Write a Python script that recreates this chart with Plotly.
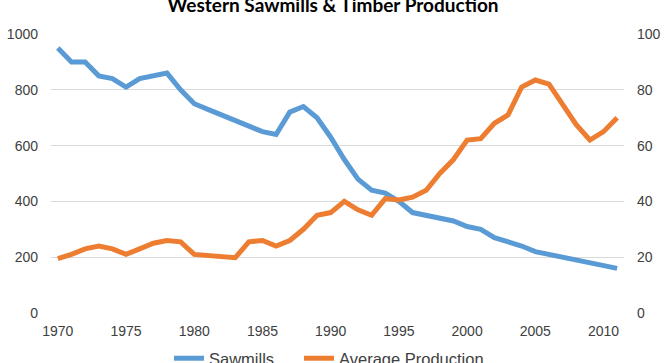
import plotly.graph_objects as go

years = list(range(1970, 2012))
sawmills = [950, 900, 900, 850, 840, 810, 840, 850, 860, 800,
            750, 730, 710, 690, 670, 650, 640, 720, 740, 700,
            630, 550, 480, 440, 430, 400, 360, 350, 340, 330,
            310, 300, 270, 255, 240, 220, 210, 200, 190, 180,
            170, 160]
avg_production = [19.5, 21, 23, 24, 23, 21, 23, 25, 26, 25.5,
                  21, 20.5, 20, 19.8, 25.5, 26, 24, 26, 30, 35,
                  36, 40, 37, 35, 41, 40.5, 41.5, 44, 50, 55,
                  62, 62.5, 68, 71, 81, 83.5, 82, 75, 67.5, 62,
                  65, 70]
x_ticks = [1970, 1975, 1980, 1985, 1990, 1995, 2000, 2005, 2010]

W, H = 666, 363
fig = go.Figure()
fig.add_trace(go.Scatter(x=years, y=sawmills, name="Sawmills", mode="lines",
                         line=dict(color="#5B9BD5", width=5), legend="legend"))
fig.add_trace(go.Scatter(x=years, y=avg_production, name="Average Production", mode="lines",
                         line=dict(color="#ED7D31", width=5), yaxis="y2", legend="legend2"))

tickfont = dict(family="Liberation Sans, Arial, sans-serif", size=14, color="#404040")
legfont = dict(family="Liberation Sans, Arial, sans-serif", size=16.5, color="#404040")
fig.update_layout(
    width=W, height=H,
    margin=dict(l=51, r=42, t=33.5, b=49.6, autoexpand=False),
    paper_bgcolor="white", plot_bgcolor="white",
    title=dict(text="<b>Western Sawmills & Timber Production</b>",
               font=dict(family="Lato, Liberation Sans, sans-serif", size=19, color="#000000"),
               x=0.5, xanchor="center", xref="container",
               y=1 - 5.7 / H, yref="container", yanchor="middle"),
    xaxis=dict(range=[1969.5, 2011.5], tickvals=x_ticks, showgrid=False, zeroline=False,
               showline=False, tickfont=tickfont, ticks="", ticklabelstandoff=8, automargin=False),
    yaxis=dict(range=[0, 1000], dtick=200, showgrid=True, gridcolor="#D9D9D9", gridwidth=1,
               zeroline=False, showline=False, tickfont=tickfont, ticklabelstandoff=12, automargin=False),
    yaxis2=dict(range=[0, 100], dtick=20, overlaying="y", side="right", showgrid=False,
                zeroline=False, showline=False, tickfont=tickfont, ticklabelstandoff=12, automargin=False),
    legend=dict(orientation="h", x=169 / W, xanchor="left", xref="container",
                y=1 - 341 / H, yref="container", yanchor="top",
                font=legfont, itemwidth=30, tracegroupgap=0),
    legend2=dict(orientation="h", x=299 / W, xanchor="left", xref="container",
                 y=1 - 341 / H, yref="container", yanchor="top",
                 font=legfont, itemwidth=30, tracegroupgap=0),
    showlegend=True,
)
fig.write_html("out.html", config={"displayModeBar": False},
               post_script="document.body.style.margin='0';")
